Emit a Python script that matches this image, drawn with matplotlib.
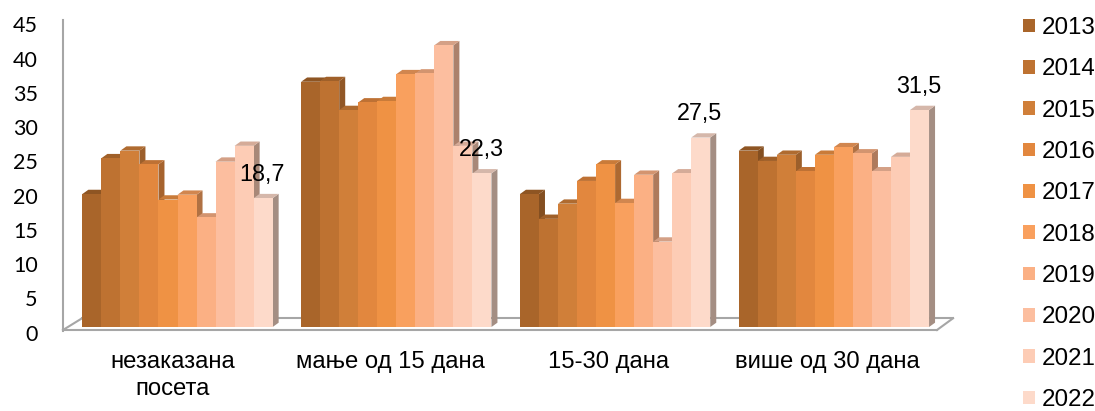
import matplotlib
matplotlib.use("Agg")
import matplotlib.pyplot as plt
from matplotlib.patches import Polygon
from matplotlib.transforms import ScaledTranslation
import numpy as np

plt.rcParams['font.family'] = ['Liberation Sans', 'DejaVu Sans']

categories = ['незаказана\nпосета', 'мање од 15 дана', '15-30 дана', 'више од 30 дана']
years = ['2013', '2014', '2015', '2016', '2017', '2018', '2019', '2020', '2021', '2022']
group_1 = [19.3, 24.5, 25.6, 23.6, 18.5, 19.2, 15.9, 24.0, 26.3, 18.7]
group_2 = [35.6, 35.7, 31.5, 32.6, 32.8, 36.7, 36.8, 40.9, 26.3, 22.3]
group_3 = [19.3, 15.7, 17.9, 21.2, 23.6, 18.0, 22.1, 12.4, 22.3, 27.5]
group_4 = [25.6, 24.1, 25.0, 22.6, 25.0, 26.1, 25.2, 22.6, 24.7, 31.5]
colors = ['#A9652A', '#BE7231', '#D07F39', '#E2873E', '#EF9244',
          '#F9A05E', '#FBB084', '#FCBE9F', '#FDCCB5', '#FDDACA']
yticks = [0, 5, 10, 15, 20, 25, 30, 35, 40, 45]
groups = [group_1, group_2, group_3, group_4]

W, H = 1095, 411
DPI = 100
fig = plt.figure(figsize=(W / DPI, H / DPI), dpi=DPI)
L, R, B, T = 63.0, 937.0, 327.0, 17.0
ax = fig.add_axes([L / W, 1 - B / H, (R - L) / W, (B - T) / H])
PITCH = 218.8
C0 = 177.5
ax.set_xlim((L - C0) / PITCH, (R - C0) / PITCH)
ax.set_ylim(0, 45)
ax.patch.set_alpha(0)
for s in ax.spines.values():
    s.set_visible(False)

PXY = (B - T) / 45.0
def X(px): return (px - C0) / PITCH
def Y(py): return (B - py) / PXY
bw_px = 19.03
bw = bw_px / PITCH
dx = 6.0 / PITCH
dy = 4.3 / PXY

def shade(c, f):
    r = matplotlib.colors.to_rgb(c)
    return tuple(v * f for v in r)

# floor and wall
GREY = '#A6A6A6'
for (x0, y0), (x1, y1) in [((63, 330), (937, 330)), ((82, 318.3), (953, 318.3)),
                           ((937, 330), (953, 318.3)), ((63, 330), (82, 318.3)),
                           ((63, 331), (63, 20))]:
    ax.plot([X(x0), X(x1)], [Y(y0), Y(y1)], color=GREY, lw=1.5, clip_on=False,
            zorder=1, solid_capstyle='projecting')

handles = []
z = 2
for g, vals in enumerate(groups):
    for j, v in enumerate(vals):
        x = g + (j - 4.5) * bw
        c = colors[j]
        xr = x + bw / 2
        xl = x - bw / 2
        side = 0.78 - 0.13 * j / 9
        ax.add_patch(Polygon([(xr, 0), (xr + dx, dy), (xr + dx, v + dy), (xr, v)],
                             closed=True, fc=shade(c, side), ec='none', zorder=z, clip_on=False))
        ax.add_patch(Polygon([(xl, v), (xl + dx, v + dy), (xr + dx, v + dy), (xr, v)],
                             closed=True, fc=shade(c, 0.84), ec='none', zorder=z, clip_on=False))
        bars = ax.bar(x, v, width=bw, color=c, zorder=z + 0.5, linewidth=0, clip_on=False,
                      label=years[j] if g == 0 else None)
        if g == 0:
            handles.append(bars[0])
        z += 1
    ax.annotate(str(vals[-1]).replace('.', ','), (g + 4.5 * bw, vals[-1]),
                xytext=(-1.0 * 72 / DPI, 24 * 72 / DPI), textcoords='offset points',
                ha='center', va='center', fontsize=16.8, color='black', zorder=100)

# axis ticks
ax.set_xticks(range(4))
ax.set_xticklabels(categories, fontsize=17.2, linespacing=1.3)
ax.tick_params(axis='x', length=0, pad=17.4)
ax.set_yticks(yticks)
ax.set_yticklabels([str(t) for t in yticks], fontsize=15.5, family=['Lato', 'DejaVu Sans'])
ax.tick_params(axis='y', length=0, pad=18.2)
for lab, off in zip(ax.get_xticklabels(), [-4.6, -6.2, -7, -7]):
    lab.set_transform(lab.get_transform() + ScaledTranslation(off / DPI, 0, fig.dpi_scale_trans))
for lab, t in zip(ax.get_yticklabels(), yticks):
    lab.set_transform(lab.get_transform() + ScaledTranslation(0, -(5.7 + 0.036 * t) / DPI, fig.dpi_scale_trans))

leg = ax.legend(handles=handles, labels=years, frameon=False, fontsize=17.4,
                loc='center left', bbox_to_anchor=(1023 / W, 1 - 214.0 / H),
                bbox_transform=fig.transFigure, borderpad=0, borderaxespad=0,
                handlelength=0.5, handleheight=0.5, handletextpad=0.26, labelspacing=0.8)
fig.savefig('out.png', dpi=DPI)
